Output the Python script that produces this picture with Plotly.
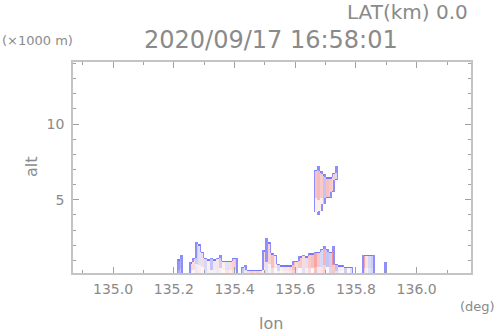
import plotly.graph_objects as go

# ---- data ----
# lower echoes: column left edge (deg), echo top (km), value in the upper part and near the ground
# (-1 blue .. +1 red)
low_lon = [135.21, 135.22, 135.25, 135.26, 135.27, 135.28, 135.29, 135.30, 135.31, 135.32,
           135.33, 135.34, 135.35, 135.36, 135.37, 135.38, 135.39, 135.40, 135.42, 135.43,
           135.44, 135.45, 135.46, 135.47, 135.48, 135.49, 135.50, 135.51, 135.52, 135.53,
           135.54, 135.55, 135.56, 135.57, 135.58, 135.59, 135.60, 135.61, 135.62, 135.63,
           135.64, 135.65, 135.66, 135.67, 135.68, 135.69, 135.70, 135.71, 135.72, 135.73,
           135.74, 135.75, 135.76, 135.77, 135.78, 135.82, 135.83, 135.84, 135.85, 135.89]
low_top = [1.10, 1.43, 0.90, 1.24, 2.16, 2.10, 1.57, 1.17, 1.10, 1.24,
           1.10, 1.17, 1.37, 0.97, 0.97, 0.97, 1.24, 1.24, 0.64, 0.70,
           0.44, 0.44, 0.44, 0.44, 0.44, 1.70, 2.49, 2.16, 1.50, 1.37,
           0.84, 0.67, 0.67, 0.67, 0.67, 0.97, 0.97, 1.30, 1.43, 1.30,
           1.50, 1.50, 1.63, 1.63, 1.83, 1.96, 1.83, 1.63, 1.96, 0.84,
           0.70, 0.70, 0.64, 0.57, 0.57, 1.37, 1.40, 1.43, 1.43, 0.90]
low_val = [-0.8, -0.7, -0.3, 0.3, -0.5, -0.3, 0.3, -0.4, 0.1, -0.6,
           -0.2, 0.2, -0.5, 0.1, -0.3, 0.3, 0.4, -0.5, -0.6, -0.3,
           0.3, 0.4, 0.3, 0.4, 0.3, 0.3, -0.8, 0.4, 0.6, 0.2,
           -0.4, 0.1, -0.2, 0.2, 0.3, 0.6, 0.3, 0.5, 0.3, -0.3,
           0.5, 0.6, 0.8, 0.5, -0.4, 0.7, -0.6, -0.5, 0.9, -0.6,
           0.1, -0.1, -0.5, 0.0, -0.3, 0.8, 0.2, -0.4, -0.5, -0.8]
low_val_base = [-0.7, -0.6, -0.1, 0.0, -0.2, 0.1, 0.0, -0.3, -0.1, -0.1,
                0.1, -0.2, -0.1, 0.0, 0.2, -0.1, 0.3, -0.2, -0.4, -0.2,
                0.6, 0.6, 0.5, 0.6, 0.5, 0.1, -0.3, -0.1, 0.3, 0.0,
                -0.1, 0.0, 0.1, -0.1, 0.2, 0.4, -0.2, 0.0, -0.3, 0.1,
                0.3, 0.0, 0.6, -0.2, 0.2, 0.4, 0.0, -0.4, 0.5, -0.3,
                -0.1, 0.0, -0.3, 0.0, -0.2, 0.5, -0.1, -0.3, -0.4, -0.8]

# upper echo (about 4-7.5 km): column left edge, echo base, echo top, value
up_lon = [135.66, 135.67, 135.68, 135.69, 135.70, 135.71, 135.72, 135.73]
up_base = [4.20, 4.00, 4.35, 4.67, 5.13, 5.13, 5.50, 6.30]
up_top = [6.98, 7.18, 6.85, 6.72, 6.45, 6.45, 6.78, 7.18]
up_val = [0.55, 0.65, 0.5, -0.6, 0.6, 0.5, 0.4, -0.4]

x_ticks = [135.0, 135.2, 135.4, 135.6, 135.8, 136.0]
y_ticks = [5, 10]

# ---- grid for drawing (two sub-cells per data column) ----
LON0, DLON, NX = 135.20, 0.005, 144
ALT0, DALT, NY = 0.1, 0.1, 75
x_edges = [LON0 + DLON * i for i in range(NX + 1)]
y_edges = [ALT0 + DALT * j for j in range(NY + 1)]
z = [[None] * NX for _ in range(NY)]
filled = [[False] * NX for _ in range(NY)]
EDGE = -1.0


def put(lon, base, top, val, val_base=None):
    i0 = int(round((lon - LON0) / DLON))
    j0 = max(0, int(round((base - ALT0) / DALT)))
    j1 = int(round((top - ALT0) / DALT))
    jmid = j0 + (j1 - j0) // 3
    for i in (i0, i0 + 1):
        for j in range(j0, j1):
            v = val_base if (val_base is not None and j < jmid) else val
            z[j][i] = v
            filled[j][i] = True
        if j1 - 1 >= j0:
            z[j1 - 1][i] = EDGE  # echo top edge drawn blue


for lo, t, v, vb in zip(low_lon, low_top, low_val, low_val_base):
    put(lo, 0.0, t, v, vb)
for lo, b, t, v in zip(up_lon, up_base, up_top, up_val):
    put(lo, b, t, v, 0.1 if lo < 135.69 else None)
    if lo > 135.69:  # lower edge of the right part of the upper echo
        i0 = int(round((lo - LON0) / DLON))
        jb = max(0, int(round((b - ALT0) / DALT)))
        z[jb][i0] = EDGE
        z[jb][i0 + 1] = EDGE

# side edges: where the neighbouring sub-column is empty
for j in range(NY):
    for i in range(NX):
        if filled[j][i]:
            left = filled[j][i - 1] if i > 0 else False
            right = filled[j][i + 1] if i < NX - 1 else False
            if not left or not right:
                z[j][i] = -0.85

cscale = [
    [0.0, "rgb(118,118,255)"],
    [0.1, "rgb(150,150,250)"],
    [0.2, "rgb(195,195,245)"],
    [0.4, "rgb(234,234,250)"],
    [0.5, "rgb(255,248,248)"],
    [0.65, "rgb(250,218,218)"],
    [0.85, "rgb(247,182,182)"],
    [1.0, "rgb(240,130,130)"],
]

fig = go.Figure(go.Heatmap(
    x=x_edges, y=y_edges, z=z, zmin=-1, zmax=1,
    colorscale=cscale, showscale=False, zsmooth=False, hoverinfo="skip",
))

GREY = "#8a8a8a"
AX = dict(
    showline=True, linecolor="#c4c4c4", linewidth=1.5, mirror="ticks",
    ticks="inside", ticklen=6, tickcolor="#a0a0a0", tickwidth=1,
    showgrid=False, zeroline=False,
    tickfont=dict(family="DejaVu Sans", size=14, color=GREY),
)
fig.update_layout(
    width=498, height=336,
    margin=dict(l=73, r=27, t=62, b=63),
    paper_bgcolor="white", plot_bgcolor="white",
    showlegend=False,
    xaxis=dict(AX, range=[134.868, 136.179], tickvals=x_ticks, tickformat=".1f",
               minor=dict(dtick=0.1, tick0=135.0, ticks="inside", ticklen=3, tickcolor="#a0a0a0"),
               ticklabelstandoff=2),
    yaxis=dict(AX, range=[0.16, 14.1], tickvals=y_ticks,
               minor=dict(dtick=1, tick0=0, ticks="inside", ticklen=3, tickcolor="#a0a0a0"),
               ticklabelstandoff=4),
)

F = "DejaVu Sans"
ann = [
    dict(text="alt", x=-0.1055, y=0.502, textangle=-90, xanchor="center", yanchor="middle",
         font=dict(family=F, size=16, color=GREY)),
    dict(text="lon", x=0.497, y=-0.237, xanchor="center", yanchor="middle",
         font=dict(family=F, size=16, color=GREY)),
    dict(text="(deg)", x=1.065, y=-0.161, xanchor="right", yanchor="middle",
         font=dict(family=F, size=13, color=GREY)),
    dict(text="2020/09/17 16:58:01", x=0.497, y=1.104, xanchor="center", yanchor="middle",
         font=dict(family=F, size=24, color=GREY)),
    dict(text="LAT(km) 0.0", x=0.9975, y=1.237, xanchor="right", yanchor="middle",
         font=dict(family=F, size=20, color=GREY)),
    dict(text="(×1000 m)", x=-0.1834, y=1.104, xanchor="left", yanchor="middle",
         font=dict(family=F, size=13, color=GREY)),
]
for a in ann:
    a.update(xref="paper", yref="paper", showarrow=False)
fig.update_layout(annotations=ann)

fig.write_html("out.html", config={"displayModeBar": False},
               post_script="document.body.style.margin='0px';")
